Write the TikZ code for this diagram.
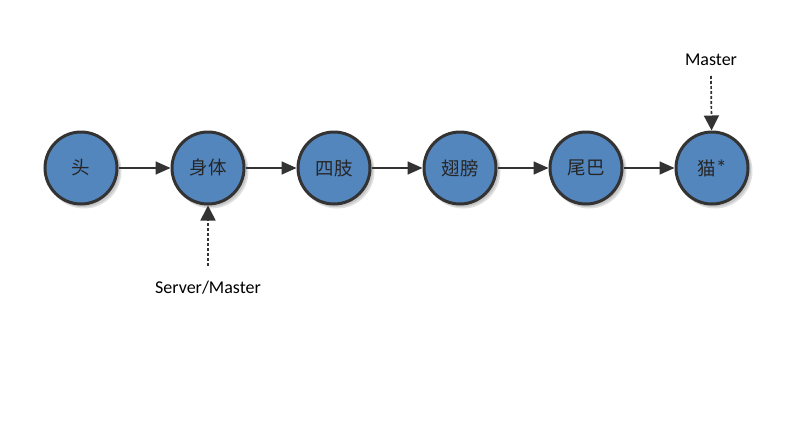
\documentclass[tikz,border=0pt]{standalone}
\usepackage{fontspec}
\setmainfont{Carlito}
\newfontfamily\cjk{Noto Sans CJK SC}[BoldFont={* Light}]
\usetikzlibrary{arrows.meta}
\definecolor{nodeblue}{RGB}{84,134,190}
\definecolor{edgegray}{RGB}{51,51,51}
\begin{document}
\begin{tikzpicture}[x=1pt,y=-1pt,
  stage/.style={circle,draw=edgegray,line width=3pt,fill=nodeblue,minimum size=72pt,inner sep=0pt,
    font=\fontsize{18.5}{18.5}\selectfont\cjk\color{black!85}},
  flow/.style={draw=edgegray,line width=1.7pt,-{Triangle[length=15pt,width=13pt]}},
  pointer/.style={draw=edgegray,line width=1.7pt,dash pattern=on 3pt off 2pt,-{Triangle[length=15pt,width=15pt]}},
  tag/.style={font=\fontsize{18}{18}\selectfont,text=black}]
\useasboundingbox[fill=white] (0,0) rectangle (800,434);
\foreach \x in {81,208,334,460,586,712}{
  \fill[black!12] (\x+3,171) circle (37.5pt);
  \fill[black!22] (\x+2,170) circle (37pt);
}
\node[stage] (head) at (81,168) {头};
\node[stage] (body) at (208,168) {身体};
\node[stage] (limbs) at (334,168) {四肢};
\node[stage] (wings) at (460,168) {翅膀};
\node[stage] (tail) at (586,168) {尾巴};
\node[stage] (cat) at (712,168) {猫{\fontspec{Carlito}\fontsize{22}{22}\selectfont*}};
\draw[flow] (head) -- (body);
\draw[flow] (body) -- (limbs);
\draw[flow] (limbs) -- (wings);
\draw[flow] (wings) -- (tail);
\draw[flow] (tail) -- (cat);
\node[tag] (master) at (711,60) {Master};
\node[tag] (server) at (208,288) {Server/Master};
\coordinate (mstart) at (711,76);
\coordinate (sstart) at (208,266);
\draw[pointer] (mstart) -- (cat);
\draw[pointer] (sstart) -- (body);
\end{tikzpicture}
\end{document}
